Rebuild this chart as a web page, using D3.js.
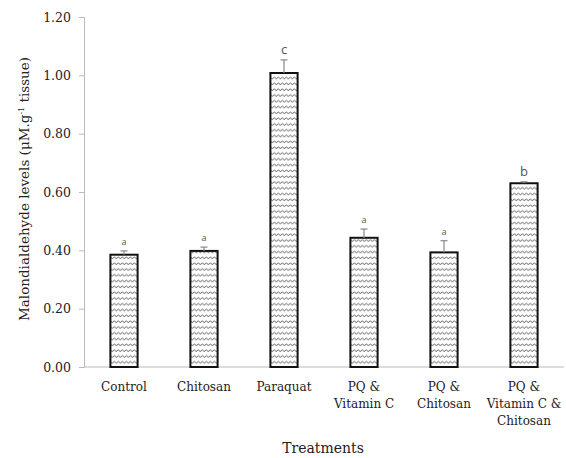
<!DOCTYPE html>
<html>
<head>
<meta charset="utf-8">
<script src="https://cdn.jsdelivr.net/npm/d3@7"></script>
<style>
  body { margin: 0; background: #fff; }
  svg { display: block; }
  text { font-family: "DejaVu Serif", "Liberation Serif", serif; }
</style>
</head>
<body>
<svg id="chart" width="566" height="458"></svg>
<script>
// Treatment groups (multi-line labels)
const categories = [
  ["Control"],
  ["Chitosan"],
  ["Paraquat"],
  ["PQ &", "Vitamin C"],
  ["PQ &", "Chitosan"],
  ["PQ &", "Vitamin C &", "Chitosan"]
];
// Mean MDA level per treatment
const values = [0.385, 0.398, 1.008, 0.443, 0.393, 0.630];
// Standard error per treatment
const errors = [0.013, 0.013, 0.045, 0.030, 0.040, 0.005];
// Significance letters
const letters = ["a", "a", "c", "a", "a", "b"];
const letterSize = [9, 9, 13, 9, 9, 13];
// Y-axis ticks
const yTicks = [0, 0.2, 0.4, 0.6, 0.8, 1.0, 1.2];

const serif = '"DejaVu Serif", "Liberation Serif", serif';
const svg = d3.select("#chart");
const margin = { left: 84, right: 2, top: 17, bottom: 91 };
const W = 566, H = 458;

const x = d3.scaleBand()
  .domain(d3.range(categories.length))
  .range([margin.left, W - margin.right])
  .paddingInner(0.66)
  .paddingOuter(0.33);

const y = d3.scaleLinear()
  .domain([0, 1.2])
  .range([H - margin.bottom, margin.top]);

// Wavy hatch fill
const defs = svg.append("defs");
const pat = defs.append("pattern")
  .attr("id", "wave")
  .attr("patternUnits", "userSpaceOnUse")
  .attr("width", 4).attr("height", 5.8);
pat.append("rect").attr("width", 4).attr("height", 5.8).attr("fill", "#fff");
pat.append("path")
  .attr("d", "M0,3.6 L2.6,1.8 L4,3.6")
  .attr("fill", "none")
  .attr("stroke", "#555")
  .attr("stroke-width", 0.9);

// Y axis
const yAxis = d3.axisLeft(y)
  .tickValues(yTicks)
  .tickFormat(d3.format(".2f"))
  .tickSize(5)
  .tickPadding(8);
const gy = svg.append("g")
  .attr("transform", `translate(${margin.left},0)`)
  .call(yAxis);
gy.select(".domain").attr("stroke", "#bbb");
gy.selectAll(".tick line").attr("stroke", "#bbb");
gy.selectAll(".tick text")
  .attr("font-size", 12.5)
  .attr("fill", "#222")
  .style("font-family", serif);

// X baseline
const xAxis = d3.axisBottom(x).tickSize(0).tickFormat("");
const gx = svg.append("g")
  .attr("transform", `translate(0,${y(0)})`)
  .call(xAxis);
gx.select(".domain").attr("stroke", "#bbb").attr("d", `M${margin.left},0H${W - margin.right}`);

// Bars
svg.append("g").selectAll("rect")
  .data(values)
  .join("rect")
  .attr("x", (d, i) => x(i))
  .attr("y", d => y(d))
  .attr("width", x.bandwidth())
  .attr("height", d => y(0) - y(d))
  .attr("fill", "url(#wave)")
  .attr("stroke", "#111")
  .attr("stroke-width", 2);

// Error bars (upper only)
const eg = svg.append("g").attr("stroke", "#888").attr("stroke-width", 1.2);
values.forEach((v, i) => {
  const cx = x(i) + x.bandwidth() / 2;
  eg.append("line")
    .attr("x1", cx).attr("x2", cx)
    .attr("y1", y(v)).attr("y2", y(v + errors[i]));
  eg.append("line")
    .attr("x1", cx - 3.5).attr("x2", cx + 3.5)
    .attr("y1", y(v + errors[i])).attr("y2", y(v + errors[i]));
});

// Significance letters
svg.append("g").selectAll("text")
  .data(letters)
  .join("text")
  .attr("x", (d, i) => x(i) + x.bandwidth() / 2)
  .attr("y", (d, i) => y(values[i] + errors[i]) - 6)
  .attr("text-anchor", "middle")
  .attr("font-size", (d, i) => letterSize[i])
  .attr("fill", "#555")
  .style("font-family", '"Open Sans", "DejaVu Sans", sans-serif')
  .text(d => d);

// Category labels
const lg = svg.append("g");
categories.forEach((lines, i) => {
  const t = lg.append("text")
    .attr("x", x(i) + x.bandwidth() / 2)
    .attr("y", y(0) + 24)
    .attr("text-anchor", "middle")
    .attr("font-size", 12)
    .attr("fill", "#222");
  lines.forEach((s, k) => {
    t.append("tspan")
      .attr("x", x(i) + x.bandwidth() / 2)
      .attr("dy", k === 0 ? 0 : 17)
      .text(s);
  });
});

// Axis titles
svg.append("text")
  .attr("x", 323)
  .attr("y", 453)
  .attr("text-anchor", "middle")
  .attr("font-size", 14)
  .attr("fill", "#222")
  .text("Treatments");

const yt = svg.append("text")
  .attr("transform", "translate(29,189) rotate(-90)")
  .attr("text-anchor", "middle")
  .attr("font-size", 13.5)
  .attr("fill", "#222");
yt.append("tspan").text("Malondialdehyde  levels (μM.g");
yt.append("tspan").attr("dy", -5).attr("font-size", 8).text("-1");
yt.append("tspan").attr("dy", 5).text(" tissue)");
</script>
</body>
</html>
